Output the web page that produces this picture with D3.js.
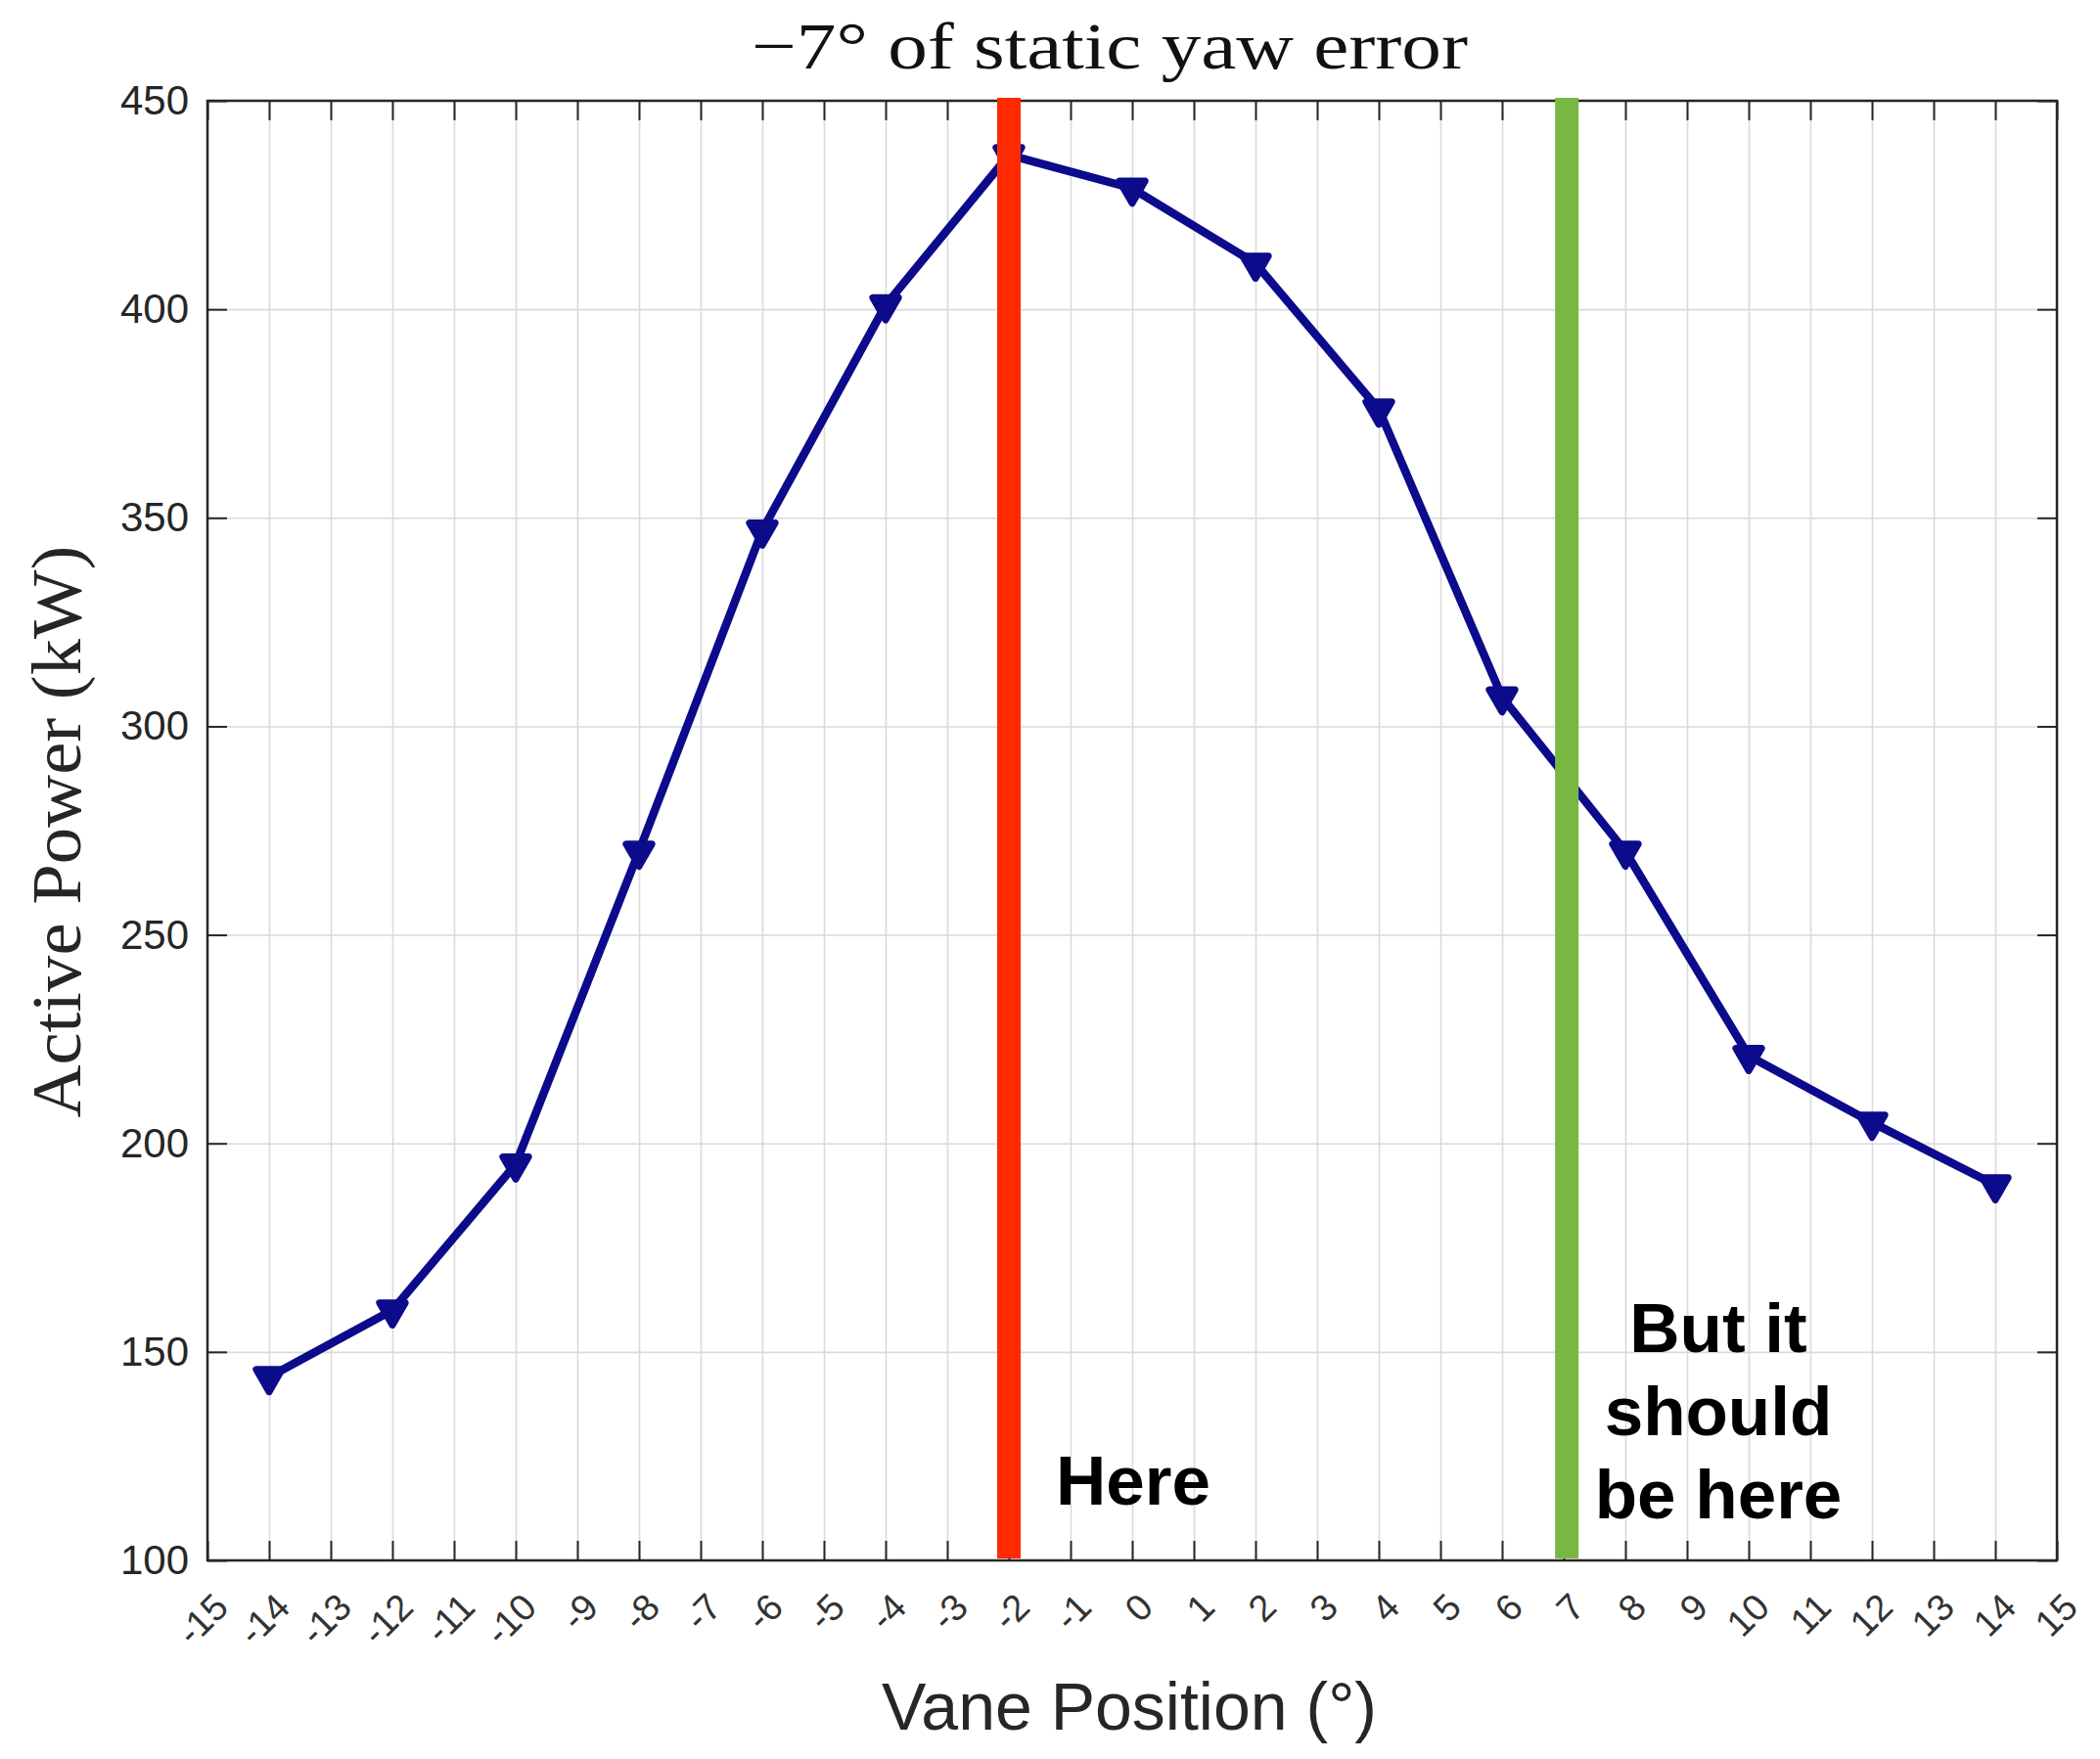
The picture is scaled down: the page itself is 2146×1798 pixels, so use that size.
<!DOCTYPE html>
<html>
<head>
<meta charset="utf-8">
<script src="https://cdn.jsdelivr.net/npm/d3@7"></script>
<style>
body{margin:0;background:#fff;}
svg{display:block;}
</style>
</head>
<body>
<div id="chart"></div>
<script>
// vane position vs active power
var vanePos = [-14,-12,-10,-8,-6,-4,-2,0,2,4,6,8,10,12,14];
var power   = [144,160,195,270,347,401,437,429,411,376,307,270,221,205,190];

var xTicks = d3.range(-15,16);
var yTicks = [100,150,200,250,300,350,400,450];

// where the yaw is vs where it should be
var markLines = [-2, 7.05];
var markColors = ["#ff2a00","#77b843"];

var width = 2146,
height = 1798
var margin = {top:103, right:44, bottom:203, left:212}

var svg=d3.select("#chart").append("svg")
.attr("width", width)
.attr("height", height)

svg.append("rect").attr("width",width).attr("height",height).attr("fill","#fff")

var x = d3.scaleLinear().domain([-15,15]).range([margin.left, width-margin.right])
var y = d3.scaleLinear().domain([100,450]).range([height-margin.bottom, margin.top])
var plotH = y(100)-y(450)
var plotW = x(15)-x(-15)

// grid
svg.append("g")
.attr("transform","translate(0,"+y(100)+")")
.call(d3.axisBottom(x).tickValues(xTicks).tickSize(-plotH).tickFormat(""))
.call(function(g){
  g.select(".domain").remove()
  g.selectAll("line").attr("stroke","#dadada").attr("stroke-width",1.6)
})
svg.append("g")
.attr("transform","translate("+x(-15)+",0)")
.call(d3.axisLeft(y).tickValues(yTicks).tickSize(-plotW).tickFormat(""))
.call(function(g){
  g.select(".domain").remove()
  g.selectAll("line").attr("stroke","#dadada").attr("stroke-width",1.6)
})

var axisColor = "#262626"

// bottom axis with rotated labels
var axBottom = svg.append("g")
.attr("transform","translate(0,"+y(100)+")")
.call(d3.axisBottom(x).tickValues(xTicks).tickSizeInner(-20).tickSizeOuter(0).tickFormat(d3.format("d")))
axBottom.select(".domain").remove()
axBottom.selectAll("line").attr("stroke",axisColor).attr("stroke-width",2)
axBottom.selectAll("text")
.attr("y",0).attr("dy",0)
.attr("text-anchor","end")
.attr("transform","translate(23,50) rotate(-45)")
.attr("font-family","'Liberation Sans', Arial, sans-serif")
.attr("font-size",38)
.attr("fill","#333")
.text(function(d){ return d<0 ? "-"+Math.abs(d) : d })

var axTop = svg.append("g")
.attr("transform","translate(0,"+y(450)+")")
.call(d3.axisTop(x).tickValues(xTicks).tickSizeInner(-20).tickSizeOuter(0).tickFormat(""))
axTop.select(".domain").remove()
axTop.selectAll("line").attr("stroke",axisColor).attr("stroke-width",2)

var axLeft = svg.append("g")
.attr("transform","translate("+x(-15)+",0)")
.call(d3.axisLeft(y).tickValues(yTicks).tickSizeInner(-20).tickSizeOuter(0).tickPadding(19))
axLeft.select(".domain").remove()
axLeft.selectAll("line").attr("stroke",axisColor).attr("stroke-width",2)
axLeft.selectAll("text")
.attr("font-family","'Liberation Sans', Arial, sans-serif")
.attr("font-size",42)
.attr("fill",axisColor)

var axRight = svg.append("g")
.attr("transform","translate("+x(15)+",0)")
.call(d3.axisRight(y).tickValues(yTicks).tickSizeInner(-20).tickSizeOuter(0).tickFormat(""))
axRight.select(".domain").remove()
axRight.selectAll("line").attr("stroke",axisColor).attr("stroke-width",2)

// box
svg.append("rect")
.attr("x",x(-15)).attr("y",y(450))
.attr("width",plotW).attr("height",plotH)
.attr("fill","none").attr("stroke",axisColor).attr("stroke-width",2.5)

// data line
var pts = vanePos.map(function(v,i){ return [v,power[i]] })
svg.append("path")
.datum(pts)
.attr("fill","none")
.attr("stroke","#0b0b8c")
.attr("stroke-width",8.5)
.attr("stroke-linejoin","round")
.attr("d",d3.line().x(function(d){return x(d[0])}).y(function(d){return y(d[1])}))

svg.append("g").selectAll("path")
.data(pts)
.enter()
.append("path")
.attr("d",d3.symbol().type(d3.symbolTriangle).size(300))
.attr("transform",function(d){ return "translate("+x(d[0])+","+y(d[1])+") rotate(180)" })
.attr("fill","#0b0b8c")
.attr("stroke","#0b0b8c")
.attr("stroke-width",7)
.attr("stroke-linejoin","round")

// vertical marker bars
svg.append("g").selectAll("rect")
.data(markLines)
.enter()
.append("rect")
.attr("x",function(d){ return x(d)-12 })
.attr("y",y(450)-3)
.attr("width",24)
.attr("height",plotH+1)
.attr("fill",function(d,i){ return markColors[i] })

// annotations
var ann = svg.append("g")
.attr("font-family","'Liberation Sans', Arial, sans-serif")
.attr("font-weight","bold")
.attr("font-size",71)
.attr("fill","#000")
ann.append("text").attr("x",1079).attr("y",1538).text("Here")
var lines2 = ["But it","should","be here"]
ann.selectAll("text.l2")
.data(lines2)
.enter()
.append("text")
.attr("class","l2")
.attr("x",1756)
.attr("y",function(d,i){ return 1382+i*85 })
.attr("text-anchor","middle")
.text(function(d){ return d })

// title and axis labels
svg.append("text")
.attr("x",1134).attr("y",70)
.attr("text-anchor","middle")
.attr("font-family","'Liberation Serif', 'Times New Roman', serif")
.attr("font-size",68)
.attr("textLength",732)
.attr("lengthAdjust","spacingAndGlyphs")
.attr("fill","#111")
.text("\u22127\u00B0 of static yaw error")

svg.append("text")
.attr("transform","translate(82,850) rotate(-90)")
.attr("text-anchor","middle")
.attr("font-family","'Liberation Serif', 'Times New Roman', serif")
.attr("font-size",72)
.attr("textLength",585)
.attr("lengthAdjust","spacingAndGlyphs")
.attr("fill","#262626")
.text("Active Power (kW)")

svg.append("text")
.attr("x",1154).attr("y",1768)
.attr("text-anchor","middle")
.attr("font-family","'Liberation Sans', Arial, sans-serif")
.attr("font-size",68)
.attr("fill","#262626")
.text("Vane Position (\u00B0)")
</script>
</body>
</html>
